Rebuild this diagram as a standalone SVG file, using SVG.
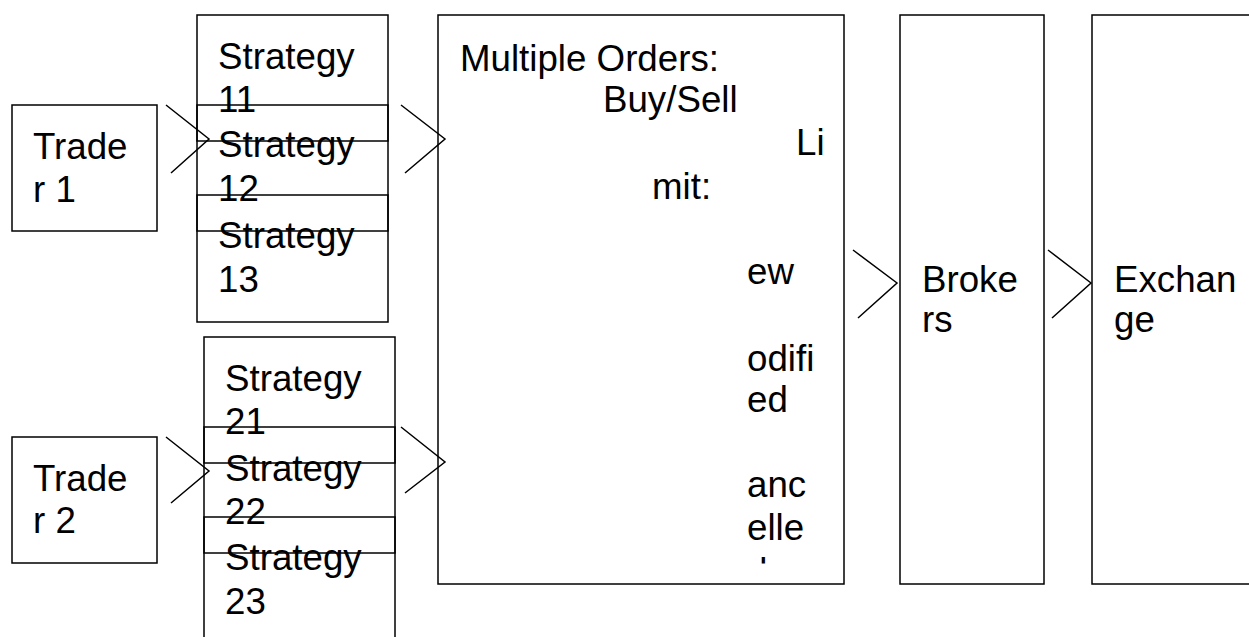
<svg xmlns="http://www.w3.org/2000/svg" width="1249" height="637" viewBox="0 0 1249 637">
<style>
.box{fill:none;stroke:#000;stroke-width:1.5}
.t{font-family:"Liberation Sans",Arial,sans-serif;font-size:36.7px;fill:#000}
.arr{fill:none;stroke:#000;stroke-width:1.5}
</style>
<defs>
<clipPath id="clipD"><rect x="700" y="540" width="140" height="23.5"/></clipPath>
</defs>
<rect width="1249" height="637" fill="#fff"/>
<g id="trader1">
<rect class="box" x="12" y="105" width="145" height="126"/>
<text class="t" x="33" y="159">Trade</text>
<text class="t" x="33" y="202">r 1</text>
</g>
<g id="trader2">
<rect class="box" x="12" y="437" width="145" height="126"/>
<text class="t" x="33" y="491">Trade</text>
<text class="t" x="33" y="533">r 2</text>
</g>
<g id="strategy11">
<rect class="box" x="197" y="15" width="191" height="126"/>
<text class="t" x="218" y="69">Strategy</text>
<text class="t" x="218" y="112">11</text>
</g>
<g id="strategy12">
<rect class="box" x="197" y="105" width="191" height="126"/>
<text class="t" x="218" y="157">Strategy</text>
<text class="t" x="218" y="201">12</text>
</g>
<g id="strategy13">
<rect class="box" x="197" y="195" width="191" height="127"/>
<text class="t" x="218" y="248">Strategy</text>
<text class="t" x="218" y="292">13</text>
</g>
<g id="strategy21">
<rect class="box" x="204" y="337" width="191" height="126"/>
<text class="t" x="225" y="391">Strategy</text>
<text class="t" x="225" y="434">21</text>
</g>
<g id="strategy22">
<rect class="box" x="204" y="427" width="191" height="126"/>
<text class="t" x="225" y="481">Strategy</text>
<text class="t" x="225" y="524">22</text>
</g>
<g id="strategy23">
<rect class="box" x="204" y="517" width="191" height="130"/>
<text class="t" x="225" y="570">Strategy</text>
<text class="t" x="225" y="614">23</text>
</g>
<g id="orders">
<rect class="box" x="438" y="15" width="406" height="569"/>
<text class="t" x="460" y="71">Multiple Orders:</text>
<text class="t" x="603" y="112">Buy/Sell</text>
<text class="t" x="796" y="155">Li</text>
<text class="t" x="652" y="199">mit:</text>
<text class="t" x="747" y="284">ew</text>
<text class="t" x="747" y="371">odifi</text>
<text class="t" x="747" y="412">ed</text>
<text class="t" x="747" y="497">anc</text>
<text class="t" x="747" y="540">elle</text>
<text class="t" x="747" y="584" clip-path="url(#clipD)">d</text>
</g>
<g id="brokers">
<rect class="box" x="900" y="15" width="144" height="569"/>
<text class="t" x="922" y="292">Broke</text>
<text class="t" x="922" y="332">rs</text>
</g>
<g id="exchange">
<rect class="box" x="1092" y="15" width="200" height="569"/>
<text class="t" x="1114" y="292">Exchan</text>
<text class="t" x="1114" y="332">ge</text>
</g>
<g id="connectors">
<polyline class="arr" points="166,105 209,139 171,173"/>
<polyline class="arr" points="401,105 445,139 405,173"/>
<polyline class="arr" points="166,437 209,471 171,503"/>
<polyline class="arr" points="401,427 445,462 405,493"/>
<polyline class="arr" points="853,250 897,283 858,318"/>
<polyline class="arr" points="1048,250 1091,283 1052,318"/>
</g>
</svg>
